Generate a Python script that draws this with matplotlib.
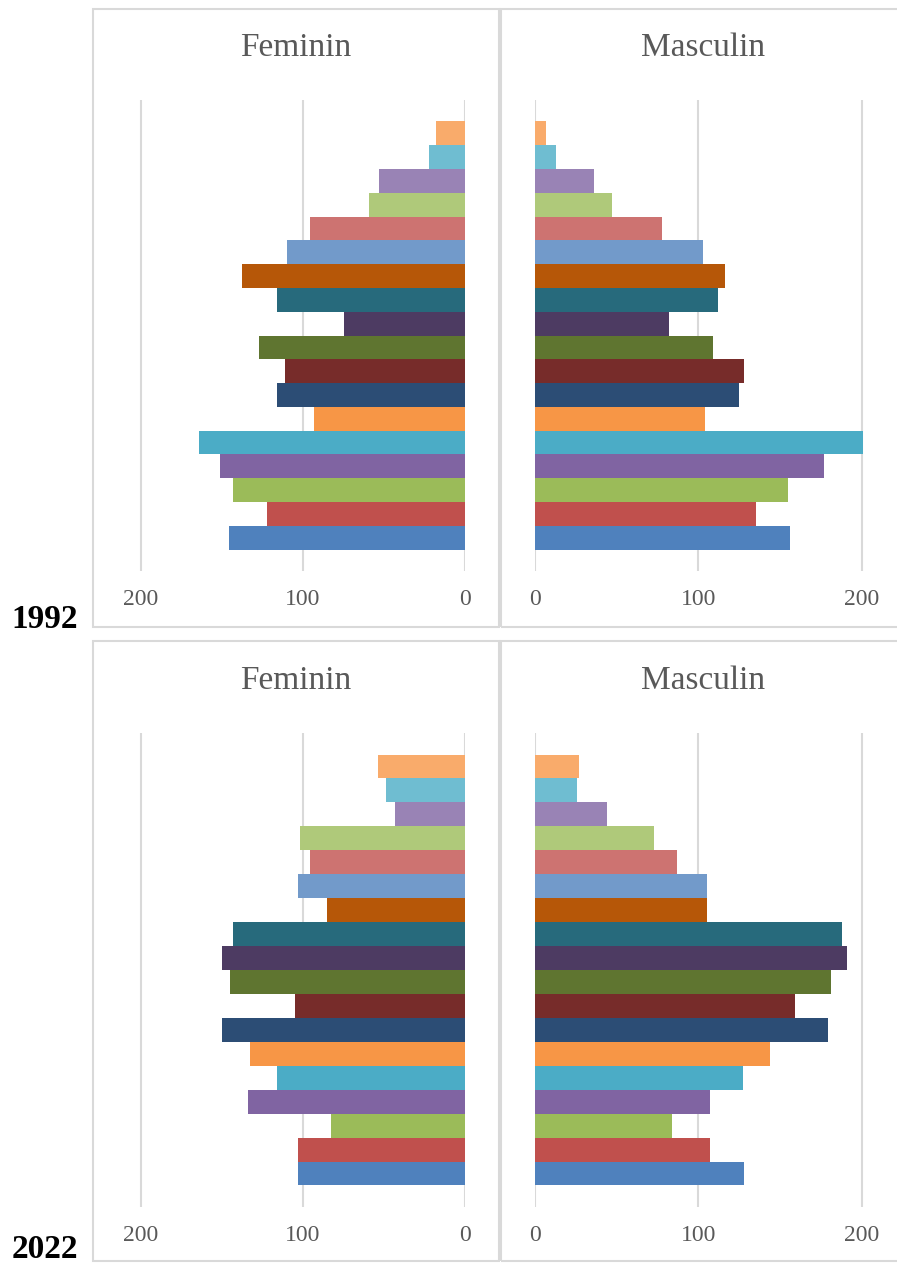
import matplotlib
matplotlib.use("Agg")
import matplotlib.pyplot as plt
from matplotlib.patches import Rectangle

# age groups, bottom to top
ages = ["0-4", "5-9", "10-14", "15-19", "20-24", "25-29", "30-34", "35-39",
        "40-44", "45-49", "50-54", "55-59", "60-64", "65-69", "70-74",
        "75-79", "80-84", "85+"]

fem_1992 = [146, 122, 143, 151, 164, 93, 116, 111, 127, 75, 116, 138,
            110, 96, 59, 53, 22, 18]
mas_1992 = [156, 135, 155, 177, 201, 104, 125, 128, 109, 82, 112, 116,
            103, 78, 47, 36, 13, 7]
fem_2022 = [103, 103, 83, 134, 116, 133, 150, 105, 145, 150, 143, 85,
            103, 96, 102, 43, 49, 54]
mas_2022 = [128, 107, 84, 107, 127, 144, 179, 159, 181, 191, 188, 105,
            105, 87, 73, 44, 26, 27]

colors = ["#4F81BD", "#C0504D", "#9BBB59", "#8064A2", "#4BACC6", "#F79646",
          "#2C4D75", "#772C2A", "#5F7530", "#4D3B62", "#276A7C", "#B65708",
          "#729ACA", "#CD7371", "#AFC97A", "#9983B5", "#6FBDD1", "#F9AB6B"]

W, H = 897, 1267
SERIF = "Liberation Serif"
GREY = "#595959"
LINE = "#d9d9d9"

fig = plt.figure(figsize=(W / 100, H / 100), dpi=100)


def px_rect(x0, y0, x1, y1):
    return [x0 / W, 1 - y1 / H, (x1 - x0) / W, (y1 - y0) / H]


def box(x0, y0, x1, y1):
    fig.patches.append(Rectangle((x0 / W, 1 - y1 / H), (x1 - x0) / W, (y1 - y0) / H,
                                 transform=fig.transFigure, fill=False,
                                 edgecolor=LINE, lw=1.5))


def pyramid_side(rect, values, flip):
    ax = fig.add_axes(px_rect(*rect))
    pos = list(range(len(values)))
    ax.barh(pos, values, height=1.0, color=colors, linewidth=0, zorder=3)
    ax.set_ylim(-1.4, 18.4)
    if flip:
        ax.set_xlim(205, 0)
    else:
        ax.set_xlim(0, 205)
    ax.set_xticks([0, 100, 200])
    ax.set_yticks([])
    ax.grid(axis="x", color=LINE, lw=1.5, zorder=0)
    for s in ax.spines.values():
        s.set_visible(False)
    ax.tick_params(axis="x", length=0, pad=13, labelsize=17, labelcolor=GREY)
    for lab in ax.get_xticklabels():
        lab.set_fontfamily(SERIF)
    ax.patch.set_alpha(0)
    return ax


rows = [
    ("1992", fem_1992, mas_1992, 9, 627, 100, 571, 48, 620),
    ("2022", fem_2022, mas_2022, 641, 1261, 733, 1207, 681, 1249),
]

for year, fem, mas, top, bot, g0, g1, ty, yy in rows:
    box(93, top, 499, bot)
    box(501, top, 906, bot)
    pyramid_side((133, g0, 465, g1), fem, True)
    pyramid_side((535, g0, 870, g1), mas, False)
    fig.text(296 / W, 1 - ty / H, "Feminin", ha="center", va="center",
             fontsize=24, color=GREY, family=SERIF)
    fig.text(703 / W, 1 - ty / H, "Masculin", ha="center", va="center",
             fontsize=24, color=GREY, family=SERIF)
    fig.text(45 / W, 1 - yy / H, year, ha="center", va="center",
             fontsize=24, fontweight="bold", color="black", family=SERIF)

fig.savefig("out.png", dpi=100)
